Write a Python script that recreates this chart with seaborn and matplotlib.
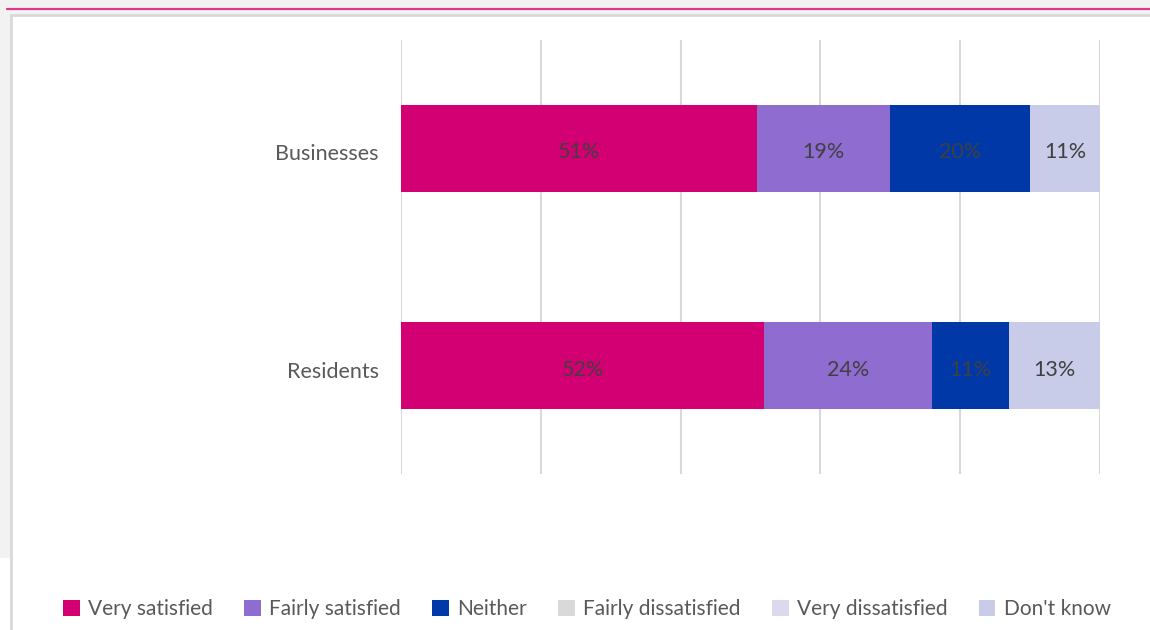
import matplotlib
matplotlib.use("Agg")
import matplotlib.pyplot as plt
import matplotlib.transforms as mtrans
import seaborn as sns
import pandas as pd
import numpy as np
from matplotlib.patches import Rectangle
from matplotlib.lines import Line2D

categories = ["Businesses", "Residents"]
responses = ["Very satisfied", "Fairly satisfied", "Neither",
             "Fairly dissatisfied", "Very dissatisfied", "Don't know"]
businesses = [51, 19, 20, 0, 0, 11]
residents = [52, 24, 11, 0, 0, 13]
colors = ["#D20073", "#8E6CD0", "#0038A8", "#D9D9D9", "#DDD8EE", "#C8CCE8"]

sns.set_theme(style="white")
plt.rcParams["font.family"] = ["Lato", "DejaVu Sans"]

data = pd.DataFrame([businesses, residents], index=categories, columns=responses)
cum = data.cumsum(axis=1)

fig = plt.figure(figsize=(11.5, 6.3), dpi=100)
fig.patch.set_facecolor("#F2F2F2")
W, H = 1150, 630
# white chart frame
fig.patches.append(Rectangle((11 / W, -0.05), 1.1, (H - 15) / H + 0.05,
                             transform=fig.transFigure, facecolor="white",
                             edgecolor="#D9D9D9", linewidth=2, zorder=-2))
fig.patches.append(Rectangle((0, 0), 10 / W, (H - 558) / H,
                             transform=fig.transFigure, facecolor="white",
                             edgecolor="none", zorder=-2))
fig.lines.append(Line2D([7 / W, 1], [(H - 8.5) / H] * 2, transform=fig.transFigure,
                        color="#D63A8C", linewidth=1.6, zorder=-1))

ax = fig.add_axes([401 / W, 156 / H, 699 / W, 434 / H])
ax.set_zorder(2)
ax.set_facecolor("none")

for i in range(len(responses) - 1, -1, -1):
    d = pd.DataFrame({"cat": categories, "val": cum.iloc[:, i].values})
    sns.barplot(data=d, x="val", y="cat", order=categories, color=colors[i],
                orient="h", width=0.4, linewidth=0, saturation=1, ax=ax, zorder=2)

shift = mtrans.ScaledTranslation(0, -4 / 100, fig.dpi_scale_trans)
for r, cat in enumerate(categories):
    left = 0
    for i, resp in enumerate(responses):
        v = data.loc[cat, resp]
        if v > 0:
            right = min(left + v, 100)
            ax.text((left + right) / 2, r, f"{v}%", ha="center", va="center",
                    fontsize=15.5, color="#404040", zorder=3,
                    transform=ax.transData + shift)
        left += v

ax.set_xlim(0, 100)
ax.set_ylim(1.5, -0.5)
ax.set_xticks(np.arange(0, 101, 20))
ax.set_xticklabels([])
ax.grid(axis="x", color="#D9D9D9", linewidth=1.5, zorder=0)
ax.set_axisbelow(True)
for s in ax.spines.values():
    s.set_visible(False)
ax.tick_params(axis="both", length=0)
ax.tick_params(axis="y", labelsize=15.5, labelcolor="#595959", pad=16)
for lbl in ax.get_yticklabels():
    lbl.set_transform(lbl.get_transform() + shift)
ax.set_xlabel("")
ax.set_ylabel("")

handles = [Rectangle((0, 0), 1, 1, facecolor=c, edgecolor="none") for c in colors]
fig.legend(handles, responses, loc="center", bbox_to_anchor=(587 / W, (H - 609) / H),
           ncol=6, frameon=False, fontsize=15, labelcolor="#595959",
           handlelength=0.8, handleheight=0.8, handletextpad=0.4, columnspacing=1.5)

fig.savefig("out.png", dpi=100, facecolor=fig.get_facecolor())
